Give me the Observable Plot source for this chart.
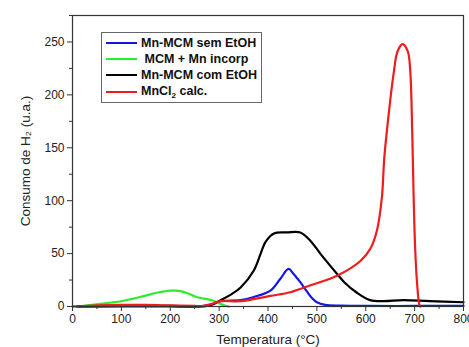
<!DOCTYPE html>
<html>
<head>
<meta charset="utf-8">
<script src="https://cdn.jsdelivr.net/npm/d3@7"></script>
<script src="https://cdn.jsdelivr.net/npm/@observablehq/plot@0.6"></script>
<style>
  html, body { margin: 0; padding: 0; background: #fff; }
  #wrap { position: relative; width: 469px; height: 347px; overflow: hidden; font-family: "Liberation Sans", Arial, sans-serif; }
  #legend { position: absolute; left: 101px; top: 32px; width: 161px; height: 71px; border: 1px solid #666; background: #fff; box-sizing: border-box; }
  .row { position: absolute; left: 4px; height: 16px; display: flex; align-items: center; font-weight: bold; font-size: 12.5px; color: #111; white-space: nowrap; }
  .sw { width: 31px; height: 0; border-top: 2.5px solid; margin-right: 4px; }
  sub { font-size: 8px; vertical-align: -3px; }
</style>
</head>
<body>
<div id="wrap"></div>
<script>
// Series names and colors
const seriesNames = ["Mn-MCM sem EtOH", "MCM + Mn incorp", "Mn-MCM com EtOH", "MnCl2 calc."];
const seriesColors = ["#1515e6", "#2cec2c", "#000000", "#ee1c1c"];

// Mn-MCM sem EtOH (blue)
const blueT = [0, 50, 100, 150, 200, 250, 280, 303, 344, 371, 405, 425, 442, 452, 466, 480, 490, 500, 517, 550, 600, 700, 800];
const blueV = [0, 0, 0, 0, 0, 0, 1, 5, 6, 9, 15, 26, 35.5, 31, 23, 14, 8, 4, 1.5, 0.8, 0.5, 0.5, 0.5];

// MCM + Mn incorp (green)
const greenT = [10, 30, 57, 80, 100, 120, 138, 155, 172, 188, 200, 210, 221, 235, 248, 262, 275, 288, 296, 305, 312, 320];
const greenV = [0, 1, 2.5, 3.8, 5, 7, 9, 11, 13, 14.3, 15, 15, 14.5, 12.5, 10, 8, 7, 5.5, 4, 2, 1, 0];

// Mn-MCM com EtOH (black)
const blackT = [10, 100, 200, 280, 303, 323, 344, 371, 385, 395, 412, 439, 466, 487, 507, 541, 556, 582, 609, 636, 677, 731, 800];
const blackV = [0, 0.5, 0.5, 1, 6, 11, 18, 34, 50, 61, 69, 70, 70, 62, 50, 31, 23, 13, 6, 5, 6, 5, 4];

// MnCl2 calc. (red)
const redT = [10, 50, 100, 150, 200, 250, 265, 285, 303, 344, 405, 446, 487, 541, 589, 610, 623, 633, 638, 647, 657, 665, 675.5, 686, 691, 695, 698, 701, 705, 710, 712];
const redV = [0, 1, 1.5, 1.5, 1, 0.5, 0.5, 2.5, 5, 5, 10, 13.5, 20, 29, 43, 55, 72, 103, 141, 182, 220, 241, 248, 241, 223, 166, 103, 56, 22, 1, 0];

// Axis ticks
const xTicks = [0, 100, 200, 300, 400, 500, 600, 700, 800];
const xMinor = [50, 150, 250, 350, 450, 550, 650, 750];
const yTicks = [0, 50, 100, 150, 200, 250];
const yMinor = [25, 75, 125, 175, 225, 275];

const rows = [];
[[blueT, blueV], [greenT, greenV], [blackT, blackV], [redT, redV]].forEach(([T, V], i) => {
  T.forEach((t, j) => rows.push({T: t, V: V[j], s: seriesNames[i]}));
});

const plot = Plot.plot({
  width: 469,
  height: 347,
  marginLeft: 72,
  marginRight: 6,
  marginTop: 15,
  marginBottom: 41,
  style: {fontFamily: "'Liberation Sans', Arial, sans-serif", fontSize: "12px", color: "#222", background: "#fff"},
  x: {domain: [0, 800]},
  y: {domain: [0, 275]},
  color: {domain: seriesNames, range: seriesColors},
  marks: [
    Plot.line(rows, {x: "T", y: "V", z: "s", stroke: "s", strokeWidth: 2.2, curve: "catmull-rom"}),
    Plot.frame({stroke: "#333", strokeWidth: 1.2}),
    Plot.axisX({ticks: xTicks, tickSize: 5, tickPadding: 3, label: "Temperatura (°C)", labelAnchor: "center", labelArrow: "none", labelOffset: 37, stroke: "#333"}),
    Plot.axisX({ticks: xMinor, tickSize: 3, text: null, label: null, stroke: "#333"}),
    Plot.axisY({ticks: yTicks, tickSize: 5, tickPadding: 3, label: "Consumo de H₂ (u.a.)", labelAnchor: "center", labelArrow: "none", labelOffset: 52, stroke: "#333"}),
    Plot.axisY({ticks: yMinor, tickSize: 3, text: null, label: null, stroke: "#333"})
  ]
});

const wrap = document.getElementById("wrap");
wrap.appendChild(plot);
// enlarge axis titles a little
plot.querySelectorAll("g[aria-label='x-axis label'] text, g[aria-label='y-axis label'] text").forEach(t => t.setAttribute("font-size", "13.5px"));

const legend = document.createElement("div");
legend.id = "legend";
const labelsHtml = ["Mn-MCM sem EtOH", "&nbsp;MCM + Mn incorp", "Mn-MCM com EtOH", "MnCl<sub>2</sub> calc."];
const rowTops = [2, 18, 34, 51];
labelsHtml.forEach((h, i) => {
  const r = document.createElement("div");
  r.className = "row";
  r.style.top = rowTops[i] + "px";
  r.innerHTML = `<span class="sw" style="border-color:${seriesColors[i]}"></span><span>${h}</span>`;
  legend.appendChild(r);
});
wrap.appendChild(legend);
</script>
</body>
</html>
